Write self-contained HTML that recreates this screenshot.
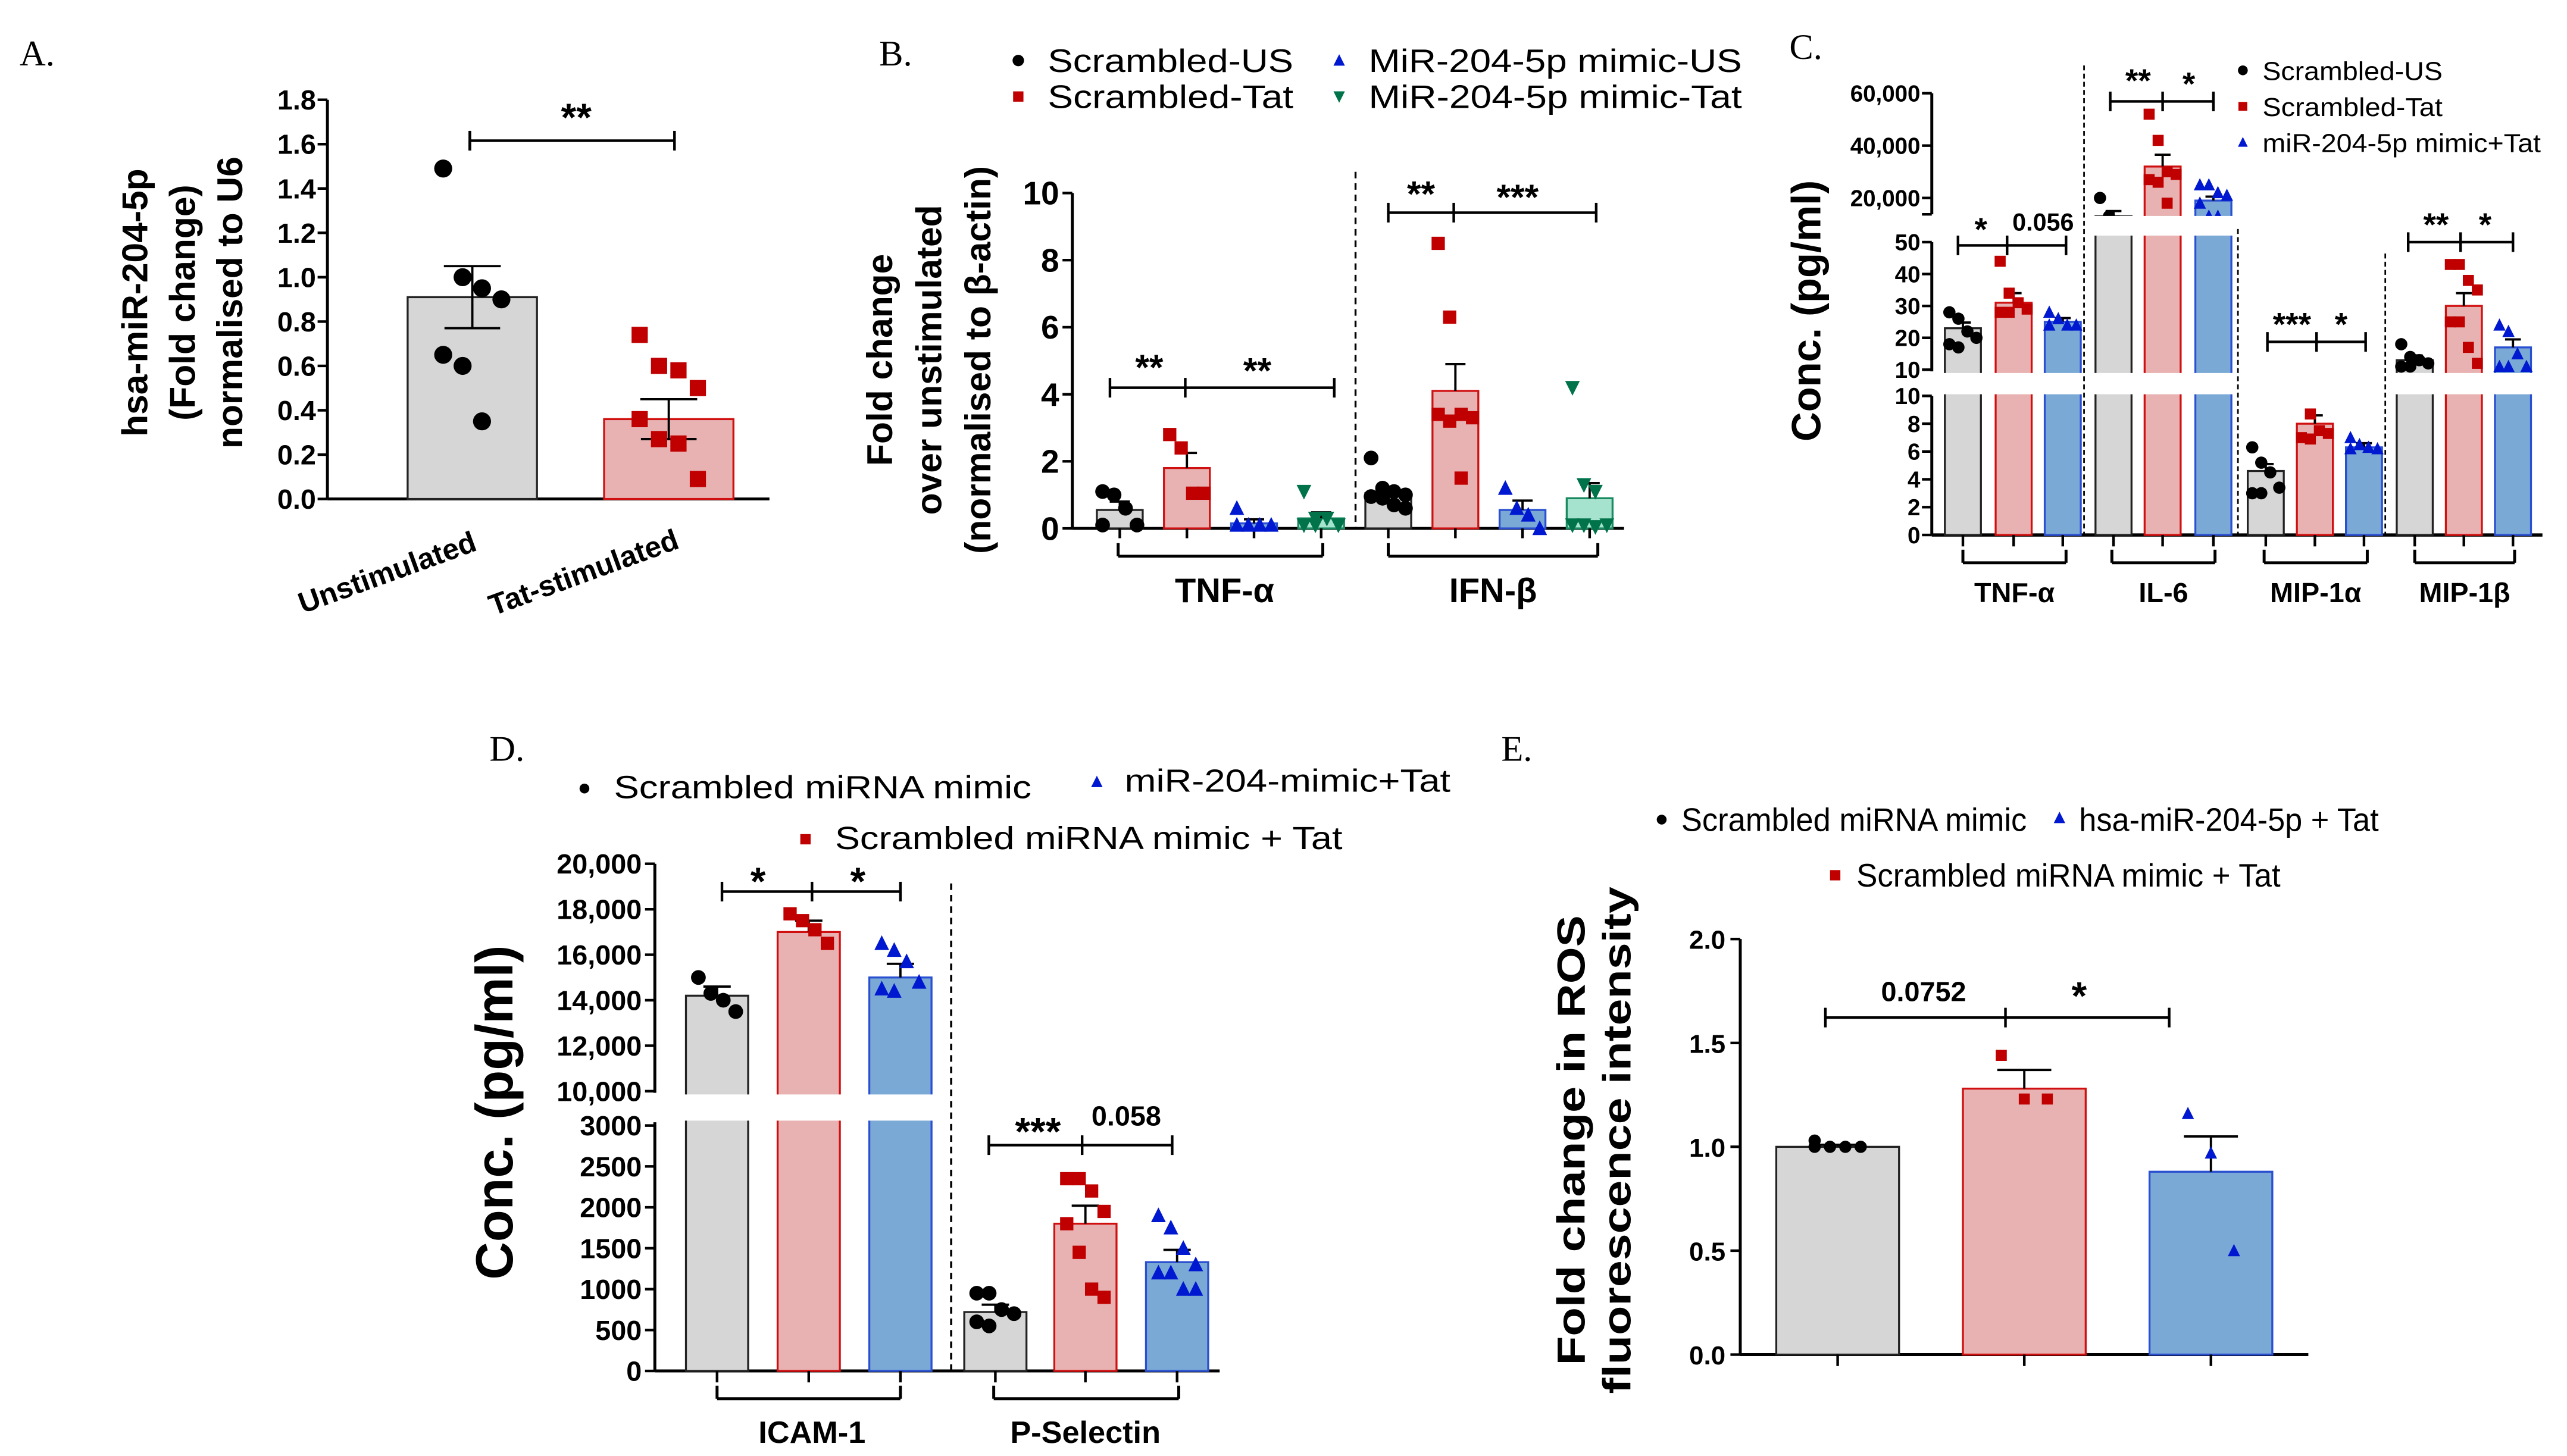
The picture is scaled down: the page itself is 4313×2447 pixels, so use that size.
<!DOCTYPE html>
<html><head><meta charset="utf-8"><style>
html,body{margin:0;padding:0;background:#fff;}
svg{display:block;}
text{font-family:"Liberation Sans",Arial,sans-serif;}
.serif{font-family:"Liberation Serif",serif;}
</style></head><body>
<svg id="fig" xmlns="http://www.w3.org/2000/svg" width="4313" height="2447" viewBox="0 0 1568 890" preserveAspectRatio="none">
<rect width="1568" height="890" fill="#fff"/>
<text class="serif" x="12" y="40" font-size="22">A.</text>
<text class="serif" x="537" y="40" font-size="22">B.</text>
<text class="serif" x="1093" y="36" font-size="22">C.</text>
<text class="serif" x="299" y="465" font-size="22">D.</text>
<text class="serif" x="917" y="465" font-size="22">E.</text>
<g id="g"></g>
</svg>
<script>
// ---- Panel A data
const A_cats=['Unstimulated','Tat-stimulated'];
const A_means=[0.91,0.36];
const A_sem=[0.14,0.09];
const A_pts=[[1.49,1.0,0.95,0.9,0.65,0.6,0.35],[0.74,0.6,0.58,0.5,0.36,0.27,0.25,0.09]];
const A_ticks=[0,0.2,0.4,0.6,0.8,1.0,1.2,1.4,1.6,1.8];
// ---- Panel B data
const B_groups=['TNF-α','IFN-β'];
const B_series=['Scrambled-US','Scrambled-Tat','MiR-204-5p mimic-US','MiR-204-5p mimic-Tat'];
const B_means=[0.55,1.8,0.15,0.3,1.05,4.1,0.55,0.9];
const B_sem=[0.25,0.45,0.12,0.18,0.15,0.8,0.28,0.45];
const B_pts=[[1.1,1.0,0.6,0.1,0.1],[2.8,2.4,1.05,1.05],[0.6,0.1,0.1,0.1,0.1],[1.1,0.3,0.3,0.1,0.1,0.1],
 [2.1,1.2,1.1,1.0,0.95,0.9,0.7,0.6],[8.5,6.3,3.4,3.3,3.4,3.2,1.5],[1.2,0.6,0.4,0.0],[4.2,1.3,1.1,0.1,0.1,0.1,0.05]];
const B_ticks=[0,2,4,6,8,10];
// ---- Panel C data
const C_groups=['TNF-α','IL-6','MIP-1α','MIP-1β'];
const C_seg=['mid','top','low','mid'];
const C_means=[23,31,25, 13000,32000,19000, 4.6,8.0,6.3, 13,30,17];
const C_sem=[1.8,3,1.2, 2000,4500,1500, 0.5,0.6,0.3, 1.5,4,2.5];
const C_pts=[[28,26,22,20,18,17],[44,34,31,29,28,28],[28,26,24,24,24],
 [20000,13000,11000,10500,10000],[52000,42000,30000,29000,27000,26000,18000],[25000,25000,22000,21000,18000,13000,13000],
 [6.3,5.2,4.5,3.4,3.0,3.0],[11,8.7,7.5,7.3,7.0,6.9],[7.0,6.5,6.3,6.2,6.2],
 [18,14,13,12,11,11],[43,43,38,35,25,25,17,12],[24,22,15,11,11,11]];
const C_topTicks=[20000,40000,60000];
const C_midTicks=[10,20,30,40,50];
const C_lowTicks=[0,2,4,6,8,10];
// ---- Panel D data
const D_groups=['ICAM-1','P-Selectin'];
const D_means=[14200,17000,15000,720,1800,1330];
const D_sem=[400,500,600,90,220,150];
const D_pts=[[15000,14300,14000,13500],[17800,17500,17100,16500],[16500,16200,15700,14800,14500,14400],
 [950,950,750,700,600,550],[2350,2350,2200,1950,1800,1450,1000,900],[1900,1750,1500,1300,1200,1200,1000,1000]];
const D_topTicks=[10000,12000,14000,16000,18000,20000];
const D_lowTicks=[0,500,1000,1500,2000,2500,3000];
// ---- Panel E data
const E_means=[1.0,1.28,0.88];
const E_sem=[0.01,0.09,0.17];
const E_pts=[[1.03,1.0,1.0,1.0,1.0],[1.44,1.23,1.23],[1.16,0.97,0.5]];
const E_ticks=[0,0.5,1.0,1.5,2.0];

const NS='http://www.w3.org/2000/svg';
const G=document.getElementById('g');
function mk(tag,a,name,txt){
  const e=document.createElementNS(NS,tag);
  for(const k in a)e.setAttribute(k,a[k]);
  
  
  if(txt!==undefined)e.textContent=txt;
  G.appendChild(e);return e;
}
function line(x1,y1,x2,y2,name,w,dash){const a={x1,y1,x2,y2,stroke:'#000','stroke-width':w||1.6};if(dash)a['stroke-dasharray']=dash;return mk('line',a,name);}
function txt(x,y,s,size,name,anchor,bold,extra){const a={x,y,'font-size':size,'text-anchor':anchor||'middle'};if(bold)a['font-weight']='bold';if(extra){Object.assign(a,extra);if(extra.textLength)a.lengthAdjust='spacingAndGlyphs';}return mk('text',a,name,s);}
const COL={gray:['#d6d6d6','#222'],red:['#e8b2b2','#d01010'],blue:['#7aa9d6','#2a4fd0'],green:['#a6e3cf','#1a8a60']};
const MK={gray:'dot',red:'sq',blue:'tri',green:'dtri'};
const MC={dot:'#000',sq:'#c00000',tri:'#0018d0',dtri:'#00734a'};
function marker(type,x,y,s,name){
  const c=MC[type];
  if(type==='dot')return mk('circle',{cx:x,cy:y,r:s*0.5,fill:c},name);
  if(type==='sq')return mk('rect',{x:x-s*0.45,y:y-s*0.45,width:s*0.9,height:s*0.9,fill:c},name);
  if(type==='tri')return mk('polygon',{points:`${x},${y-s*0.55} ${x-s*0.5},${y+s*0.45} ${x+s*0.5},${y+s*0.45}`,fill:c},name);
  return mk('polygon',{points:`${x},${y+s*0.55} ${x-s*0.5},${y-s*0.45} ${x+s*0.5},${y-s*0.45}`,fill:c},name);
}
function jitter(i,n,w){if(n===1)return 0;const cols=Math.min(n,4);const c=i%cols;return (c-(cols-1)/2)*(w*0.75/(cols-1||1));}
function bar(x,w,ytop,ybase,col,name){mk('rect',{x,y:Math.min(ytop,ybase),width:w,height:Math.abs(ybase-ytop),fill:COL[col][0],stroke:COL[col][1],'stroke-width':1.2},name);}
function errbar(cx,w,ym,ye,name){line(cx,ym,cx,ye,name,1.4);line(cx-w*0.22,ye,cx+w*0.22,ye,name+'-cap',1.4);}
function pts(cx,w,arr,yf,type,s,name){arr.forEach((v,i)=>marker(type,cx+jitter(i,arr.length,w),yf(v),s,name));}
function sig(x1,xm,x2,y,name){line(x1,y,x2,y,name);line(x1,y-6,x1,y+6,name+'-l');line(x2,y-6,x2,y+6,name+'-r');line(xm,y-6,xm,y+6,name+'-m');}
function groupBracket(x1,x2,y,name){line(x1,y,x2,y,name,1.8);line(x1,y-8,x1,y,name+'-l',1.8);line(x2,y-8,x2,y,name+'-r',1.8);}

// ===== Panel A
(function(){
 const y=v=>305-v*(244/1.8);
 line(200,61,200,305,'a-y-axis',1.8);line(200,305,470,305,'a-x-axis',1.8);
 A_ticks.forEach(t=>{line(194,y(t),200,y(t),'a-y-tick');txt(193,y(t)+6,t.toFixed(1),17,'a-y-tick-label','end',1);});
 const xs=[249,369],w=79,cols=['gray','red'];
 A_cats.forEach((c,i)=>{bar(xs[i],w,y(A_means[i]),305,cols[i],'a-bar-'+i);errbar(xs[i]+w/2,w,y(A_means[i]),y(A_means[i]+A_sem[i]),'a-error');line(xs[i]+w/2-17,y(A_means[i]-A_sem[i]),xs[i]+w/2+17,y(A_means[i]-A_sem[i]),'a-error-low',1.4);line(xs[i]+w/2,y(A_means[i]),xs[i]+w/2,y(A_means[i]-A_sem[i]),'a-error-lowv',1.4);
  pts(xs[i]+w/2,w*0.6,A_pts[i],y,MK[cols[i]],11,'a-point');
  const lx=xs[i]+w/2-52;
  txt(lx,356,c,18,'a-x-label','middle',1,{transform:`rotate(-20 ${lx} 350)`});});
 sig(287,287,412,86,'a-sig');line(287,86,287,92,'a-sig-x');
 txt(352,80,'**',24,'a-sig-text','middle',1);
 ['hsa-miR-204-5p','(Fold change)','normalised to U6'].forEach((s,i)=>txt(0,0,s,22,'a-y-title','middle',1,{transform:`translate(${90+i*29},185) rotate(-90)`}));
})();

// ===== Panel B
(function(){
 const y=v=>323-v*20.5;
 line(655,118,655,323,'b-y-axis',1.8);line(655,323,992,323,'b-x-axis',1.8);
 B_ticks.forEach(t=>{line(649,y(t),655,y(t),'b-y-tick');txt(647,y(t)+7,String(t),20,'b-y-tick-label','end',1);});
 const xs=[670,711,752,793,834,875,916,957],w=28,cols=['gray','red','blue','green'];
 B_means.forEach((m,i)=>{const c=cols[i%4];const cx=xs[i]+w/2;bar(xs[i],w,y(m),323,c,'b-bar');errbar(cx,w,y(m),y(m+B_sem[i]),'b-error');line(cx,323,cx,329,'b-x-tick');pts(cx,w,B_pts[i],y,MK[c],9,'b-point');});
 line(828,105,828,323,'b-divider',1.2,'4,3');
 groupBracket(683,808,340,'b-group-tnf');groupBracket(848,976,340,'b-group-ifn');
 txt(748,368,B_groups[0],21,'b-group-label','middle',1);txt(912,368,B_groups[1],21,'b-group-label','middle',1);
 sig(678,724,815,237,'b-sig-tnf');txt(702,232,'**',22,'b-sig-text','middle',1);txt(768,234,'**',22,'b-sig-text','middle',1);
 sig(848,888,975,130,'b-sig-ifn');txt(868,126,'**',22,'b-sig-text','middle',1);txt(927,128,'***',22,'b-sig-text','middle',1);
 ['Fold change','over unstimulated','(normalised to β-actin)'].forEach((s,i)=>txt(0,0,s,22,'b-y-title','middle',1,{transform:`translate(${545+i*30},220) rotate(-90)`}));
 const lg=[[622,38,'dot'],[622,60,'sq'],[818,38,'tri'],[818,60,'dtri']];
 const lens=[150,150,228,228];
 B_series.forEach((s,i)=>{marker(lg[i][2],lg[i][0],lg[i][1]-1,7,'b-legend-marker');txt(lg[i][0]+18,lg[i][1]+6,s,20,'b-legend-entry','start',0,{textLength:lens[i]});});
})();

// ===== Panel C
(function(){
 const yTop=v=>153-v*0.0016, yMid=v=>226-(v-10)*1.95, yLow=v=>327-v*8.5;
 const yf={top:yTop,mid:yMid,low:yLow};
 const X0=1180;
 line(X0,57,X0,131,'c-y-axis-top',1.8);line(X0,148,X0,227,'c-y-axis-mid',1.8);line(X0,242,X0,327,'c-y-axis-low',1.8);
 line(X0,327,1553,327,'c-x-axis',2);
 C_topTicks.forEach(t=>{line(X0-6,yTop(t),X0,yTop(t),'c-tick');txt(X0-7,yTop(t)+5,t.toLocaleString('en-US'),14,'c-tick-label','end',1);});
 line(X0-6,131,X0,131,'c-tick');
 C_midTicks.forEach(t=>{line(X0-6,yMid(t),X0,yMid(t),'c-tick');txt(X0-7,yMid(t)+5,String(t),14,'c-tick-label','end',1);});
 C_lowTicks.forEach(t=>{line(X0-6,yLow(t),X0,yLow(t),'c-tick');txt(X0-7,yLow(t)+5,String(t),14,'c-tick-label','end',1);});
 const xs=[1188,1219,1249,1280,1310,1341,1373,1403,1433,1464,1494,1524],w=22,cols=['gray','red','blue'];
 C_means.forEach((m,i)=>{const g=Math.floor(i/3),c=cols[i%3],f=yf[C_seg[g]],cx=xs[i]+w/2;
  bar(xs[i],w,f(m),327,c,'c-bar');
  line(cx,327,cx,334,'c-x-tick',1.6);
  errbar(cx,w,f(m),f(m+C_sem[i]),'c-error');pts(cx,w,C_pts[i],f,MK[c],7.5,'c-point');});
 mk('rect',{x:X0-4,y:132,width:380,height:12,fill:'#fff'},'c-axis-break-top');
 mk('rect',{x:X0-4,y:228,width:380,height:13,fill:'#fff'},'c-axis-break-low');
 [1273,1367,1457].forEach((x,i)=>line(x,i===0?40:(i===1?140:155),x,327,'c-divider',1,'3,2'));
 const gb=[[1199,1262],[1290,1353],[1383,1446],[1475,1536]];
 gb.forEach((b,i)=>{groupBracket(b[0],b[1],344,'c-group-bracket');txt((b[0]+b[1])/2,368,C_groups[i],17,'c-group-label','middle',1);});
 sig(1196,1226,1262,150,'c-sig-tnf');txt(1210,147,'*',20,'c-sig-text','middle',1);txt(1248,141,'0.056',15,'c-sig-text','middle',1);
 sig(1289,1321,1352,62,'c-sig-il6');txt(1306,56,'**',20,'c-sig-text','middle',1);txt(1337,58,'*',20,'c-sig-text','middle',1);
 sig(1385,1415,1445,209,'c-sig-mip1a');txt(1400,205,'***',20,'c-sig-text','middle',1);txt(1430,205,'*',20,'c-sig-text','middle',1);
 sig(1471,1503,1535,148,'c-sig-mip1b');txt(1488,144,'**',20,'c-sig-text','middle',1);txt(1518,144,'*',20,'c-sig-text','middle',1);
 txt(0,0,'Conc. (pg/ml)',25,'c-y-title','middle',1,{transform:'translate(1112,190) rotate(-90)'});
 const L=['Scrambled-US','Scrambled-Tat','miR-204-5p mimic+Tat'],lm=['dot','sq','tri'],ll=[110,110,170];
 L.forEach((s,i)=>{marker(lm[i],1370,44+i*22-1,6,'c-legend-marker');txt(1382,49+i*22,s,16,'c-legend-entry','start',0,{textLength:ll[i]});});
})();

// ===== Panel D
(function(){
 const yTop=v=>667-(v-10000)*0.0139, yLow=v=>838-v*0.05;
 line(400,528,400,668,'d-y-axis-top',1.8);line(400,686,400,838,'d-y-axis-low',1.8);line(400,838,745,838,'d-x-axis',1.8);
 D_topTicks.forEach(t=>{line(394,yTop(t),400,yTop(t),'d-tick');txt(392,yTop(t)+6,t.toLocaleString('en-US'),17,'d-tick-label','end',1);});
 D_lowTicks.forEach(t=>{line(394,yLow(t),400,yLow(t),'d-tick');txt(392,yLow(t)+6,String(t),17,'d-tick-label','end',1);});
 const xs=[419,475,531,589,644,700],w=38,cols=['gray','red','blue'];
 D_means.forEach((m,i)=>{const c=cols[i%3],f=i<3?yTop:yLow,cx=xs[i]+w/2;bar(xs[i],w,f(m),838,c,'d-bar');line(cx,838,cx,845,'d-x-tick');errbar(cx,w,f(m),f(m+D_sem[i]),'d-error');pts(cx,w*0.8,D_pts[i],f,MK[c],9,'d-point');});
 mk('rect',{x:396,y:669,width:190,height:16,fill:'#fff'},'d-axis-break');
 line(581,540,581,838,'d-divider',1.3,'4,3');
 groupBracket(438,550,855,'d-group-icam');groupBracket(607,720,855,'d-group-psel');
 txt(496,882,D_groups[0],19,'d-group-label','middle',1);txt(663,882,D_groups[1],19,'d-group-label','middle',1);
 sig(441,496,550,545,'d-sig-icam');txt(463,547,'*',24,'d-sig-text','middle',1);txt(524,547,'*',24,'d-sig-text','middle',1);
 sig(604,661,716,700,'d-sig-psel');txt(634,700,'***',24,'d-sig-text','middle',1);txt(688,688,'0.058',17,'d-sig-text','middle',1);
 txt(0,0,'Conc. (pg/ml)',32,'d-y-title','middle',1,{transform:'translate(313,680) rotate(-90)'});
 marker('dot',357,482,6,'d-legend-marker');txt(375,488,'Scrambled miRNA mimic',19.5,'d-legend-entry','start',0,{textLength:255});
 marker('tri',670,478,7,'d-legend-marker');txt(687,484,'miR-204-mimic+Tat',19.5,'d-legend-entry','start',0,{textLength:199});
 marker('sq',492,513,7,'d-legend-marker');txt(510,519,'Scrambled miRNA mimic + Tat',19.5,'d-legend-entry','start',0,{textLength:310});
})();

// ===== Panel E
(function(){
 const y=v=>828-v*127;
 line(1063,574,1063,828,'e-y-axis',1.8);line(1063,828,1410,828,'e-x-axis',1.8);
 E_ticks.forEach(t=>{line(1057,y(t),1063,y(t),'e-tick');txt(1054,y(t)+6,t.toFixed(1),16,'e-tick-label','end',1);});
 const xs=[1085,1199,1313],w=75,cols=['gray','red','blue'];
 E_means.forEach((m,i)=>{const cx=xs[i]+w/2;bar(xs[i],w,y(m),828,cols[i],'e-bar');line(cx,828,cx,835,'e-x-tick');errbar(cx,w,y(m),y(m+E_sem[i]),'e-error');pts(cx,w*0.5,E_pts[i],y,MK[cols[i]],7.5,'e-point');});
 sig(1115,1225,1325,622,'e-sig');txt(1175,612,'0.0752',17,'e-sig-text','middle',1);txt(1270,617,'*',24,'e-sig-text','middle',1);
 const tl=[275,310];
 ['Fold change in ROS','fluorescence intensity'].forEach((s,i)=>txt(0,0,s,24,'e-y-title','middle',1,{transform:`translate(${968+i*28},697) rotate(-90)`,textLength:tl[i]}));
 marker('dot',1015,501,6,'e-legend-marker');txt(1027,508,'Scrambled miRNA mimic',20,'e-legend-entry','start',0,{textLength:211});
 marker('tri',1258,500,7,'e-legend-marker');txt(1270,508,'hsa-miR-204-5p + Tat',20,'e-legend-entry','start',0,{textLength:183});
 marker('sq',1121,535,7,'e-legend-marker');txt(1134,542,'Scrambled miRNA mimic + Tat',20,'e-legend-entry','start',0,{textLength:259});
})();
</script>
</body></html>
